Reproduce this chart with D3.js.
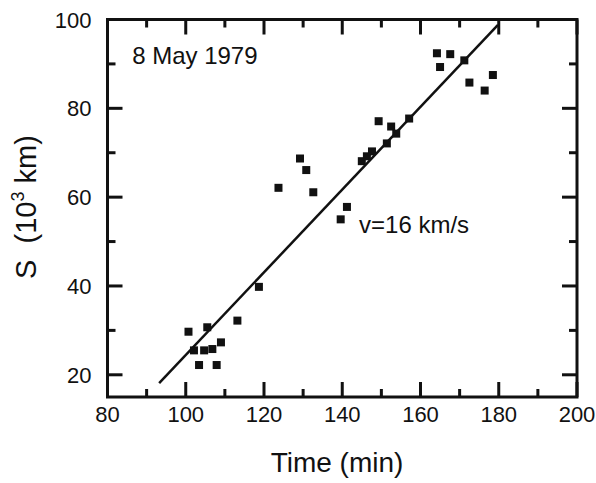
<!DOCTYPE html>
<html>
<head>
<meta charset="utf-8">
<script src="https://cdn.jsdelivr.net/npm/d3@7"></script>
<style>
  body { margin: 0; background: #fff; }
  text { font-family: Arial, "Liberation Sans", sans-serif; fill: #111; }
</style>
</head>
<body>
<svg width="596" height="483"></svg>
<script>
// observed positions, 8 May 1979
const timeMin = [100.7, 105.5, 102.1, 104.7, 106.8, 109.0, 103.4, 107.9, 113.2, 118.7,
                 123.7, 129.2, 130.8, 132.6, 139.6, 141.2, 145.0, 146.3, 147.6, 149.3,
                 151.4, 152.5, 153.8, 157.1, 164.2, 165.0, 167.6, 171.2, 172.5, 176.4, 178.5];
const distKm  = [29.7, 30.7, 25.5, 25.5, 25.8, 27.3, 22.2, 22.2, 32.2, 39.8,
                 62.1, 68.7, 66.1, 61.1, 55.0, 57.8, 68.1, 69.2, 70.3, 77.1,
                 72.1, 75.9, 74.3, 77.7, 92.4, 89.3, 92.2, 90.8, 85.8, 84.0, 87.5];

// linear fit, v = 16 km/s
const fitTime = [93.2, 179.8];
const fitDist = [18.1, 98.8];

const xMajor = [80, 100, 120, 140, 160, 180, 200];
const xMinor = [90, 110, 130, 150, 170, 190];
const yMajor = [20, 40, 60, 80, 100];
const yMinor = [30, 50, 70, 90];

let margin = {top: 19.5, right: 19, bottom: 86, left: 107.5},
    width = 596 - margin.left - margin.right,
    height = 483 - margin.top - margin.bottom;

let svg = d3.select("svg")
  .append("g")
  .attr("transform", "translate(" + margin.left + "," + margin.top + ")");

let x = d3.scaleLinear().domain([80, 200]).range([0, width]);
let y = d3.scaleLinear().domain([15, 100]).range([height, 0]);

let majLen = 15, minLen = 8, tw = 3;

// inward ticks on all four sides (filled bars)
function xTicks(vals, len) {
  svg.selectAll(null).data(vals).enter().append("rect")
    .attr("x", function(d) { return x(d) - tw / 2; })
    .attr("y", height - len).attr("width", tw).attr("height", len)
    .attr("fill", "#111");
  svg.selectAll(null).data(vals).enter().append("rect")
    .attr("x", function(d) { return x(d) - tw / 2; })
    .attr("y", 0).attr("width", tw).attr("height", len)
    .attr("fill", "#111");
}
function yTicks(vals, len) {
  svg.selectAll(null).data(vals).enter().append("rect")
    .attr("y", function(d) { return y(d) - tw / 2; })
    .attr("x", 0).attr("height", tw).attr("width", len)
    .attr("fill", "#111");
  svg.selectAll(null).data(vals).enter().append("rect")
    .attr("y", function(d) { return y(d) - tw / 2; })
    .attr("x", width - len).attr("height", tw).attr("width", len)
    .attr("fill", "#111");
}
xTicks(xMajor, majLen);
xTicks(xMinor, minLen);
yTicks(yMajor, majLen);
yTicks(yMinor, minLen);

// tick labels
svg.selectAll(".xl").data(xMajor).enter().append("text")
  .attr("x", function(d) { return x(d); })
  .attr("y", height + 25)
  .attr("text-anchor", "middle")
  .style("font-size", "22px")
  .text(function(d) { return d; });

svg.selectAll(".yl").data(yMajor).enter().append("text")
  .attr("x", -16)
  .attr("y", function(d) { return y(d) + 8; })
  .attr("text-anchor", "end")
  .style("font-size", "22px")
  .text(function(d) { return d; });

// frame
svg.append("rect")
  .attr("width", width)
  .attr("height", height)
  .attr("fill", "none")
  .attr("stroke", "#111")
  .attr("stroke-width", 3);

// fit line
let fit = fitTime.map(function(t, i) { return [t, fitDist[i]]; });
svg.append("path")
  .datum(fit)
  .attr("fill", "none")
  .attr("stroke", "#111")
  .attr("stroke-width", 2.5)
  .attr("d", d3.line().x(function(d) { return x(d[0]); }).y(function(d) { return y(d[1]); }));

// data points
let sq = 8;
svg.selectAll(".pt")
  .data(timeMin)
  .enter().append("rect")
  .attr("class", "pt")
  .attr("x", function(d) { return x(d) - sq / 2; })
  .attr("y", function(d, i) { return y(distKm[i]) - sq / 2; })
  .attr("width", sq)
  .attr("height", sq)
  .attr("fill", "#111");

// annotations
svg.append("text")
  .attr("x", x(86.3))
  .attr("y", y(89.9))
  .style("font-size", "24px")
  .text("8 May 1979");

svg.append("text")
  .attr("x", x(144.3))
  .attr("y", y(51.9))
  .style("font-size", "24px")
  .text("v=16 km/s");

// axis titles
svg.append("text")
  .attr("x", 337 - margin.left)
  .attr("y", 472 - margin.top)
  .attr("text-anchor", "middle")
  .style("font-size", "28px")
  .text("Time (min)");

let yTitle = svg.append("text")
  .attr("transform", "translate(" + (36 - margin.left) + "," + (207 - margin.top) + ") rotate(-90)")
  .attr("text-anchor", "middle")
  .style("font-size", "29px")
  .style("white-space", "pre");
yTitle.append("tspan").text("S  (10");
yTitle.append("tspan").attr("dy", -12).style("font-size", "18px").text("3");
yTitle.append("tspan").attr("dy", 12).text(" km)");
</script>
</body>
</html>
